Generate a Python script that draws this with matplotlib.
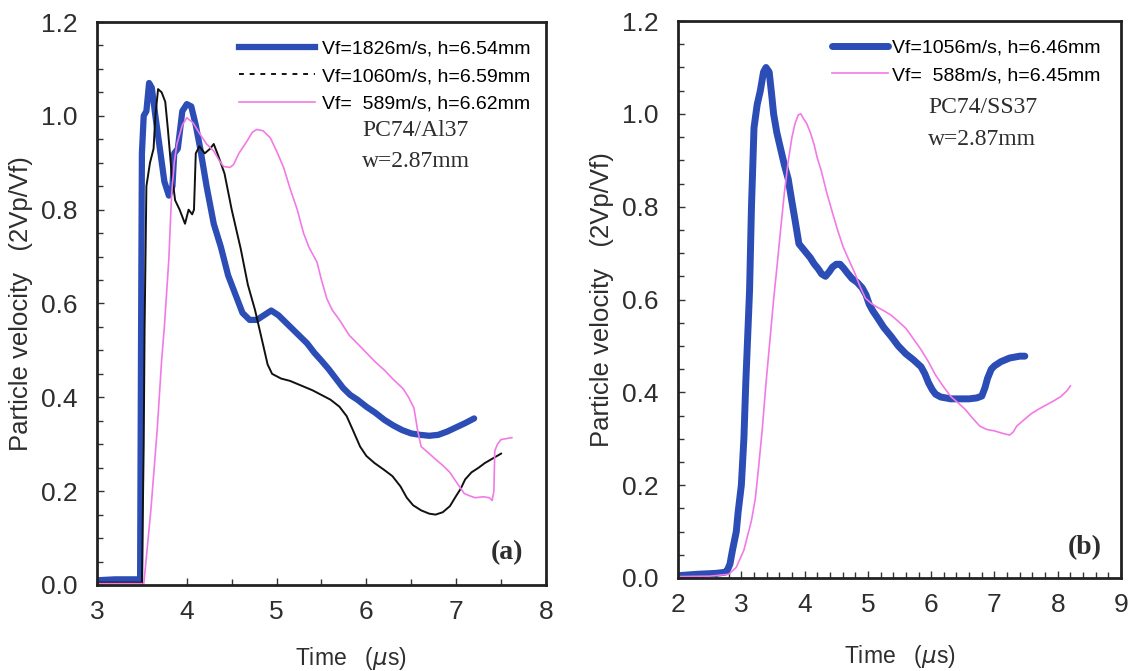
import matplotlib
matplotlib.use("Agg")
import matplotlib.pyplot as plt
from matplotlib.ticker import MultipleLocator
from matplotlib.lines import Line2D

plt.rcParams['font.family'] = ['Liberation Sans', 'DejaVu Sans']

# ---------------- Panel (a): PC74/Al37 ----------------
a_blue_t = [3.0, 3.2, 3.48, 3.49, 3.50, 3.52, 3.55, 3.58, 3.61, 3.65, 3.70, 3.75, 3.80, 3.84, 3.86, 3.90,
            3.95, 4.0, 4.05, 4.10, 4.15, 4.22, 4.30, 4.38, 4.46, 4.54, 4.62, 4.70, 4.78, 4.86, 4.94, 5.02,
            5.10, 5.18, 5.26, 5.34, 5.42, 5.50, 5.58, 5.66, 5.74, 5.82, 5.90, 6.00, 6.10, 6.20, 6.30, 6.40,
            6.50, 6.60, 6.70, 6.80, 6.90, 7.00, 7.10, 7.20]
a_blue_v = [0.01, 0.012, 0.012, 0.5, 0.92, 1.0, 1.01, 1.07, 1.06, 1.0, 0.93, 0.86, 0.83, 0.85, 0.92, 0.93,
            1.01, 1.025, 1.02, 0.98, 0.93, 0.85, 0.77, 0.72, 0.66, 0.62, 0.58, 0.565, 0.565, 0.575, 0.585, 0.575,
            0.56, 0.545, 0.53, 0.515, 0.495, 0.478, 0.46, 0.44, 0.42, 0.405, 0.395, 0.38, 0.367, 0.352, 0.34, 0.33,
            0.323, 0.32, 0.318, 0.32, 0.327, 0.336, 0.345, 0.355]

a_black_t = [3.0, 3.5, 3.52, 3.53, 3.55, 3.59, 3.63, 3.65, 3.68, 3.72, 3.76, 3.79, 3.83, 3.87, 3.92, 3.98,
             4.02, 4.06, 4.08, 4.10, 4.14, 4.20, 4.26, 4.30, 4.35, 4.42, 4.50, 4.60, 4.68, 4.76, 4.84, 4.90,
             4.95, 5.05, 5.15, 5.30, 5.40, 5.50, 5.60, 5.70, 5.78, 5.85, 5.93, 6.00, 6.09, 6.20, 6.29, 6.38,
             6.45, 6.52, 6.61, 6.70, 6.77, 6.85, 6.93, 7.00, 7.05, 7.10, 7.17, 7.25, 7.32, 7.41, 7.50]
a_black_v = [0.005, 0.005, 0.3, 0.55, 0.85, 0.9, 0.93, 1.0, 1.057, 1.05, 1.03, 0.97, 0.88, 0.82, 0.80, 0.77,
             0.80, 0.79, 0.80, 0.92, 0.935, 0.92, 0.93, 0.94, 0.915, 0.877, 0.80, 0.717, 0.64, 0.586, 0.52, 0.47,
             0.45, 0.44, 0.435, 0.423, 0.415, 0.405, 0.395, 0.38, 0.36, 0.33, 0.295, 0.275, 0.26, 0.245, 0.232, 0.21,
             0.186, 0.17, 0.159, 0.152, 0.15, 0.155, 0.168, 0.19, 0.205, 0.225, 0.24, 0.25, 0.26, 0.27, 0.28]

a_pink_t = [3.0, 3.5, 3.52, 3.60, 3.67, 3.72, 3.75, 3.80, 3.83, 3.86, 3.89, 3.95, 4.0, 4.07, 4.15, 4.22,
            4.30, 4.36, 4.41, 4.48, 4.52, 4.58, 4.67, 4.73, 4.78, 4.85, 4.93, 5.00, 5.08, 5.15, 5.23, 5.30,
            5.36, 5.45, 5.50, 5.56, 5.62, 5.70, 5.81, 5.95, 6.09, 6.20, 6.29, 6.41, 6.47, 6.53, 6.57, 6.61,
            6.70, 6.77, 6.85, 6.93, 7.00, 7.09, 7.15, 7.21, 7.30, 7.37, 7.40, 7.42, 7.43, 7.46, 7.50, 7.56, 7.62]
a_pink_v = [0.003, 0.003, 0.0, 0.16, 0.33, 0.48, 0.55, 0.695, 0.83, 0.90, 0.94, 0.98, 0.996, 0.985, 0.96, 0.94,
            0.925, 0.905, 0.892, 0.89, 0.896, 0.92, 0.946, 0.965, 0.971, 0.968, 0.953, 0.925, 0.889, 0.845, 0.80, 0.75,
            0.72, 0.688, 0.65, 0.61, 0.586, 0.565, 0.532, 0.505, 0.477, 0.458, 0.44, 0.418, 0.40, 0.377, 0.33, 0.295,
            0.28, 0.268, 0.255, 0.24, 0.22, 0.195, 0.19, 0.186, 0.188, 0.186, 0.18, 0.2, 0.286, 0.30, 0.31, 0.312, 0.314]

a_labels = ["Vf=1826m/s, h=6.54mm", "Vf=1060m/s, h=6.59mm", "Vf=  589m/s, h=6.62mm"]

# ---------------- Panel (b): PC74/SS37 ----------------
b_blue_t = [2.0, 2.3, 2.6, 2.72, 2.77, 2.82, 2.86, 2.92, 2.95, 3.0, 3.04, 3.07, 3.10, 3.13, 3.16, 3.20,
            3.25, 3.30, 3.35, 3.39, 3.44, 3.48, 3.51, 3.56, 3.62, 3.68, 3.74, 3.80, 3.85, 3.91, 4.0, 4.09,
            4.15, 4.21, 4.27, 4.33, 4.39, 4.44, 4.50, 4.56, 4.62, 4.67, 4.75, 4.83, 4.91, 4.97, 5.02, 5.08,
            5.14, 5.25, 5.37, 5.48, 5.60, 5.72, 5.84, 5.90, 5.96, 6.02, 6.07, 6.15, 6.31, 6.45, 6.60, 6.72,
            6.80, 6.85, 6.89, 6.95, 7.0, 7.10, 7.24, 7.40, 7.48]
b_blue_v = [0.005, 0.008, 0.01, 0.012, 0.014, 0.03, 0.06, 0.1, 0.143, 0.2, 0.3, 0.42, 0.52, 0.62, 0.80, 0.97,
            1.02, 1.05, 1.09, 1.10, 1.09, 1.04, 1.0, 0.96, 0.925, 0.89, 0.86, 0.81, 0.77, 0.72, 0.705, 0.69,
            0.677, 0.667, 0.655, 0.65, 0.66, 0.67, 0.676, 0.676, 0.667, 0.658, 0.645, 0.637, 0.625, 0.61, 0.59, 0.575,
            0.563, 0.54, 0.52, 0.5, 0.483, 0.47, 0.455, 0.44, 0.42, 0.405, 0.396, 0.39, 0.386, 0.386, 0.386, 0.388,
            0.392, 0.41, 0.43, 0.45, 0.457, 0.466, 0.474, 0.478, 0.478]

b_pink_t = [2.0, 2.5, 2.8, 2.92, 3.04, 3.16, 3.22, 3.27, 3.33, 3.39, 3.45, 3.51, 3.57, 3.62, 3.68, 3.74,
            3.80, 3.85, 3.90, 3.94, 3.98, 4.03, 4.09, 4.15, 4.20, 4.26, 4.35, 4.44, 4.52, 4.61, 4.70, 4.79,
            4.87, 4.96, 5.05, 5.14, 5.25, 5.37, 5.48, 5.60, 5.72, 5.84, 5.96, 6.07, 6.19, 6.31, 6.42, 6.54,
            6.65, 6.77, 6.88, 7.0, 7.12, 7.24, 7.30, 7.35, 7.46, 7.58, 7.70, 7.82, 7.94, 8.05, 8.15, 8.20]
b_pink_v = [0.003, 0.004, 0.008, 0.023, 0.06, 0.124, 0.17, 0.235, 0.32, 0.42, 0.51, 0.60, 0.68, 0.75, 0.83, 0.897,
            0.95, 0.98, 0.998, 1.0, 0.99, 0.98, 0.96, 0.934, 0.905, 0.879, 0.83, 0.787, 0.75, 0.713, 0.685, 0.658,
            0.63, 0.603, 0.592, 0.584, 0.576, 0.566, 0.553, 0.538, 0.515, 0.492, 0.465, 0.437, 0.413, 0.391, 0.378, 0.363,
            0.345, 0.327, 0.32, 0.317, 0.312, 0.308, 0.315, 0.327, 0.34, 0.354, 0.364, 0.373, 0.382, 0.391, 0.404, 0.414]

b_labels = ["Vf=1056m/s, h=6.46mm", "Vf=  588m/s, h=6.45mm"]

BLUE = '#2b4db5'
PINK = '#f27ae6'
TXT = '#2e2e2e'
SERIF = ['Liberation Serif', 'DejaVu Serif']

fig = plt.figure(figsize=(11.32, 6.71), dpi=100)
axA = fig.add_axes([0.0857, 0.1282, 0.3966, 0.839])
axB = fig.add_axes([0.599, 0.1386, 0.3913, 0.830])

def style(ax, xlim, xmajor, xminor):
    ax.set_xlim(*xlim)
    ax.set_ylim(0, 1.2)
    ax.xaxis.set_major_locator(MultipleLocator(xmajor))
    ax.xaxis.set_minor_locator(MultipleLocator(xminor))
    ax.yaxis.set_major_locator(MultipleLocator(0.2))
    ax.yaxis.set_minor_locator(MultipleLocator(0.05))
    ax.yaxis.set_major_formatter(matplotlib.ticker.FormatStrFormatter('%.1f'))
    ax.tick_params(which='both', direction='in', top=False, right=False, width=1.0, color='#333333')
    ax.tick_params(which='major', length=5, labelsize=19, labelcolor=TXT)
    ax.tick_params(which='minor', length=4)
    ax.tick_params(axis='y', which='major', pad=14)
    ax.tick_params(axis='x', which='major', pad=11)
    for s in ax.spines.values():
        s.set_linewidth(2.0)
        s.set_color('#222222')
    ax.set_ylabel('Particle velocity   (2Vp/Vf)', fontsize=18.5, color=TXT, labelpad=6)
    ax.set_xlabel(r'Time   ($\mu$s)', fontsize=16.5, color=TXT)

# Panel (a)
axA.plot(a_blue_t, a_blue_v, color=BLUE, lw=4.5, solid_capstyle='round')
axA.plot(a_black_t, a_black_v, color='#111111', lw=1.4)
axA.plot(a_pink_t, a_pink_v, color=PINK, lw=1.2)
style(axA, (3, 8), 1, 0.5)
axA.xaxis.set_label_coords(0.565, -0.106)
handlesA = [Line2D([], [], color=BLUE, lw=4.5),
            Line2D([], [], color='#111111', lw=1.4, linestyle=(0, (2.5, 3))),
            Line2D([], [], color=PINK, lw=1.2)]
axA.legend(handlesA, a_labels, loc='upper right', bbox_to_anchor=(0.995, 0.992), frameon=False, fontsize=14,
           handlelength=3.9, handletextpad=0.35, labelspacing=0.5, borderaxespad=0.3)
axA.text(0.59, 0.808, 'PC74/Al37', transform=axA.transAxes, fontsize=17,
         family=SERIF, color=TXT, va='center')
axA.text(0.59, 0.752, 'w=2.87mm', transform=axA.transAxes, fontsize=17,
         family=SERIF, color=TXT, va='center')
axA.text(0.913, 0.057, '(a)', transform=axA.transAxes, fontsize=20, fontweight='bold',
         family=SERIF, color=TXT, ha='center', va='center')

# Panel (b)
axB.plot(b_blue_t, b_blue_v, color=BLUE, lw=5, solid_capstyle='round')
axB.plot(b_pink_t, b_pink_v, color=PINK, lw=1.2)
style(axB, (2, 9), 1, 0.2)
axB.xaxis.set_label_coords(0.5, -0.117)
handlesB = [Line2D([], [], color=BLUE, lw=5, solid_capstyle='round'),
            Line2D([], [], color=PINK, lw=1.2)]
axB.legend(handlesB, b_labels, loc='upper right', bbox_to_anchor=(0.985, 0.992), frameon=False, fontsize=14,
           handlelength=2.9, handletextpad=0.2, labelspacing=0.5, borderaxespad=0.3)
axB.text(0.564, 0.844, 'PC74/SS37', transform=axB.transAxes, fontsize=17,
         family=SERIF, color=TXT, va='center')
axB.text(0.564, 0.788, 'w=2.87mm', transform=axB.transAxes, fontsize=17,
         family=SERIF, color=TXT, va='center')
axB.text(0.917, 0.054, '(b)', transform=axB.transAxes, fontsize=20, fontweight='bold',
         family=SERIF, color=TXT, ha='center', va='center')

fig.savefig('out.png', dpi=100)
